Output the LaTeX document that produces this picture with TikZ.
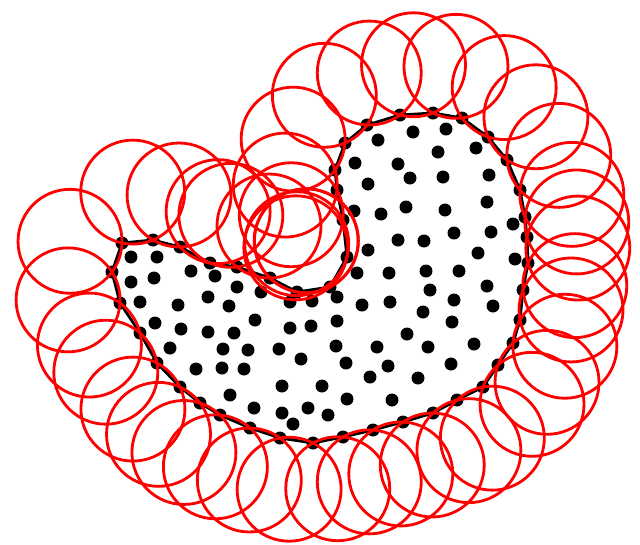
\documentclass[tikz,border=0pt]{standalone}
\usepackage{tikz}
\usetikzlibrary{calc}
\definecolor{ringred}{HTML}{FF0000}

\begin{document}
\begin{tikzpicture}[x=0.02cm, y=-0.02cm,
    ring/.style={ringred, line width=1.6pt},
    hull/.style={black, line width=1.6pt, line join=round}]
  \useasboundingbox (0,0) rectangle (640,545);

  % Boundary points
  \foreach \bx/\by [count=\i] in {122/243, 153/240, 180/247, 210/263, 237/267,
      270/278, 297/292, 330/287, 347/257, 343/220, 337/190, 335/170, 345/143,
      367/125, 400/115, 433/113, 462/118, 488/137, 507/160, 520/190, 525/217,
      527/237, 528/263, 523/290, 520/320, 513/343, 498/365, 483/387, 457/400,
      433/413, 403/422, 373/430, 343/437, 313/443, 280/438, 250/428, 220/415,
      200/403, 180/387, 157/363, 140/333, 120/303, 112/272}
    \coordinate (b\i) at (\bx,\by);

  \draw[hull] (b1) \foreach \i in {2,...,43}{ -- (b\i)} -- cycle;
  \foreach \i in {1,...,43}
    \fill (b\i) circle[radius=0.13cm];

  % Interior points
  \foreach \px/\py in {413/132, 446/129, 378/140, 476/148, 438/152, 355/163,
      398/164, 410/178, 443/177, 489/175, 368/184, 487/202, 354/211, 381/214,
      406/207, 445/210, 454/233, 491/232, 513/224, 398/240, 424/241, 368/250,
      478/253, 515/259, 357/273, 389/273, 426/271, 459/271, 487/286, 430/290,
      390/302, 362/305, 454/300, 493/306, 423/312, 452/322, 337/321, 311/326,
      290/328, 407/334, 474/344, 377/347, 428/347, 336/346, 279/349, 346/363,
      301/359, 451/364, 388/366, 370/377, 418/378, 282/386, 322/386, 347/399,
      392/400, 308/408, 328/415, 282/413, 293/424, 254/408, 230/395, 222/368,
      244/369, 248/350, 223/349, 196/369, 170/348, 181/329, 208/332, 234/333,
      255/320, 290/302, 312/301, 337/297, 155/323, 178/305, 208/297, 229/306,
      140/302, 131/282, 154/278, 191/271, 215/276, 237/287, 261/292, 131/257,
      157/257}
    \fill (\px,\py) circle[radius=0.13cm];

  % Empty circles through neighbouring boundary points
  \foreach \i in {1,...,43}{
    \pgfmathtruncatemacro\j{mod(\i,43)+1}
    \path let \p1 = ($(b\j)-(b\i)$), \n1 = {veclen(\x1,\y1)},
      \n2 = {sqrt(29.6*29.6 - 0.25*\n1*\n1)} in
      coordinate (c\i) at ($(b\i)!.5!(b\j)!{\n2*1pt}!90:(b\j)$);
    \draw[ring] (c\i) circle[radius=1.04cm];
  }
\end{tikzpicture}
\end{document}
